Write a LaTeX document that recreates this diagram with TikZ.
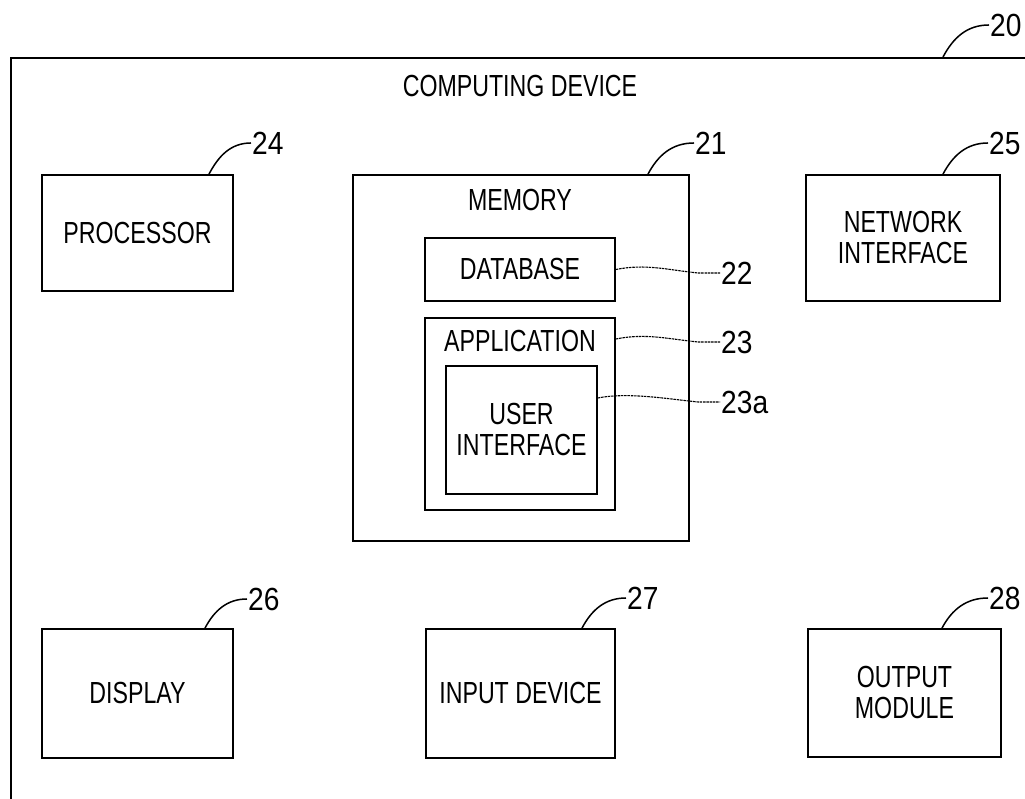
\documentclass[tikz,border=0pt]{standalone}
\usepackage{fontspec}
\setmainfont{Liberation Sans}[FakeStretch=0.76]
\newfontfamily\reffont{Liberation Sans}[FakeStretch=0.88]
\begin{document}
\begin{tikzpicture}[x=1pt,y=1pt,
  box/.style={draw,line width=1.8pt,inner sep=0pt,align=center,font=\fontsize{30.5}{31}\selectfont},
  lbl/.style={inner sep=0pt,font=\fontsize{30.5}{31}\selectfont},
  ref/.style={anchor=west,inner sep=1pt,font=\reffont\fontsize{32}{33}\selectfont},
  leader/.style={line width=1.5pt},
  wavy/.style={line width=1.1pt,dash pattern=on 2.5pt off 0.8pt}]
\useasboundingbox (0,0) rectangle (1025,799);
\clip (0,0) rectangle (1025,799);
\node[draw,line width=1.8pt,inner sep=0pt,minimum width=1040pt,minimum height=780pt,anchor=north west] (dev) at (10,742) {};
\node[lbl] (devt) at (520,713) {COMPUTING DEVICE};
\node[box,minimum width=191pt,minimum height=116pt] (proc) at (137.5,566) {PROCESSOR};
\node[box,minimum width=336pt,minimum height=366pt] (mem) at (521,441) {};
\node[lbl] (memt) at (520,599) {MEMORY};
\node[box,minimum width=190pt,minimum height=63pt] (db) at (520,529.5) {DATABASE};
\node[box,minimum width=190pt,minimum height=192pt] (app) at (520,385) {};
\node[lbl] (appt) at (520,458) {APPLICATION};
\node[box,minimum width=151pt,minimum height=128pt] (ui) at (521.5,369) {USER\\INTERFACE};
\node[box,minimum width=194pt,minimum height=126pt] (net) at (903,561) {NETWORK\\INTERFACE};
\node[box,minimum width=191pt,minimum height=129pt] (disp) at (137.5,105.5) {DISPLAY};
\node[box,minimum width=189pt,minimum height=129pt] (inp) at (520.5,105.5) {INPUT DEVICE};
\node[box,minimum width=193pt,minimum height=128pt] (outm) at (904.5,106) {OUTPUT\\MODULE};
\node[ref] (r20) at (989,774) {20};
\node[ref] (r24) at (251,656) {24};
\node[ref] (r21) at (694,656) {21};
\node[ref] (r25) at (988,656) {25};
\node[ref] (r26) at (247,200) {26};
\node[ref] (r27) at (626,201) {27};
\node[ref] (r28) at (988,201) {28};
\node[ref] (r22) at (720,526) {22};
\node[ref] (r23) at (720,457) {23};
\node[ref] (r23a) at (720,397) {23a};
\draw[leader] ([xshift=933pt]dev.north west) to[out=62,in=180] (r20.west);
\draw[leader] ([xshift=71.5pt]proc.north) to[out=62,in=180] (r24.west);
\draw[leader] ([xshift=127pt]mem.north) to[out=62,in=180] (r21.west);
\draw[leader] ([xshift=40pt]net.north) to[out=62,in=180] (r25.west);
\draw[leader] ([xshift=67.5pt]disp.north) to[out=62,in=180] (r26.west);
\draw[leader] ([xshift=61.5pt]inp.north) to[out=62,in=180] (r27.west);
\draw[leader] ([xshift=37.5pt]outm.north) to[out=62,in=180] (r28.west);
\draw[wavy] (db.east) .. controls +(30,6) and +(-30,3) .. ([xshift=-22pt]r22.west) -- (r22.west);
\draw[wavy] ([yshift=75pt]app.east) .. controls +(30,6) and +(-30,3) .. ([xshift=-22pt]r23.west) -- (r23.west);
\draw[wavy] ([yshift=32pt]ui.east) .. controls +(30,6) and +(-30,3) .. ([xshift=-22pt]r23a.west) -- (r23a.west);
\end{tikzpicture}
\end{document}
